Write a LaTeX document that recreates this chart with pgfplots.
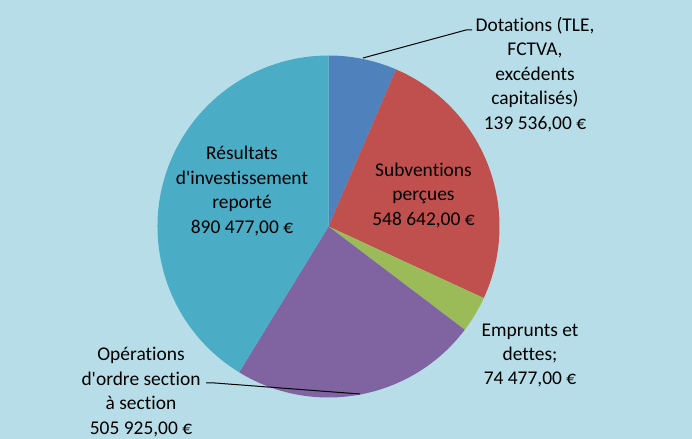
\documentclass[border=0pt]{standalone}
\usepackage{pgfplots}
\usepackage{pgfplotstable}
\pgfplotsset{compat=1.18}
\usepackage{fontspec}
\setmainfont[Ligatures=NoCommon]{Carlito}

\definecolor{bgc}{HTML}{B7DEE8}
\definecolor{cDot}{HTML}{4F81BD}
\definecolor{cSub}{HTML}{C0504D}
\definecolor{cEmp}{HTML}{9BBB59}
\definecolor{cOps}{HTML}{8064A2}
\definecolor{cRes}{HTML}{4BACC6}

% montants en euros, dans l'ordre des secteurs (sens horaire depuis midi)
\pgfplotstableread{
label value
Dotations 139536
Subventions 548642
Emprunts 74477
Operations 505925
Resultats 890477
}\piedata

\newcommand\getv[2]{\pgfplotstablegetelem{#1}{value}\of\piedata\edef#2{\pgfplotsretval}}
\getv{0}\vA \getv{1}\vB \getv{2}\vC \getv{3}\vD \getv{4}\vE
\edef\tot{\fpeval{\vA+\vB+\vC+\vD+\vE}}
\edef\aA{90}
\edef\aB{\fpeval{\aA-360*\vA/\tot}}
\edef\aC{\fpeval{\aB-360*\vB/\tot}}
\edef\aD{\fpeval{\aC-360*\vC/\tot}}
\edef\aE{\fpeval{\aD-360*\vD/\tot}}
\edef\aF{\fpeval{\aE-360*\vE/\tot}}

\newcommand\pieslice[3]{\fill[#1] (axis cs:328.5,212.5) -- +(#2:171bp) arc[start angle=#2,end angle=#3,radius=171bp] -- cycle;}
\tikzset{lbl/.style={font=\fontsize{19.5}{24.5}\selectfont, align=center, inner sep=0pt}}

\begin{document}
\begin{tikzpicture}
\begin{axis}[
  width=692bp, height=439bp, scale only axis,
  xmin=0, xmax=692, ymin=0, ymax=439,
  hide axis, clip=false,
]
\fill[bgc] (axis cs:0,0) rectangle (axis cs:692,439);
\pieslice{cDot}{\aA}{\aB}
\pieslice{cSub}{\aB}{\aC}
\pieslice{cEmp}{\aC}{\aD}
\pieslice{cOps}{\aD}{\aE}
\pieslice{cRes}{\aE}{\aF}

\draw[line width=1bp] (axis cs:363,381) -- (axis cs:466,409) -- (axis cs:472,409);
\draw[line width=1bp] (axis cs:206,56) -- (axis cs:215,56) -- (axis cs:360,45);

\node[lbl] at (axis cs:535,364.5) {Dotations (TLE,\\FCTVA,\\excédents\\capitalisés)\\139 536,00 €};
\node[lbl] at (axis cs:423.5,243.5) {Subventions\\perçues\\548 642,00 €};
\node[lbl] at (axis cs:530,83.5) {Emprunts et\\dettes;\\74 477,00 €};
\node[lbl] at (axis cs:141,47) {Opérations\\d\textquotesingle ordre section\\à section\\505 925,00 €};
\node[lbl] at (axis cs:242,248) {Résultats\\d\textquotesingle investissement\\reporté\\890 477,00 €};
\end{axis}
\end{tikzpicture}
\end{document}
